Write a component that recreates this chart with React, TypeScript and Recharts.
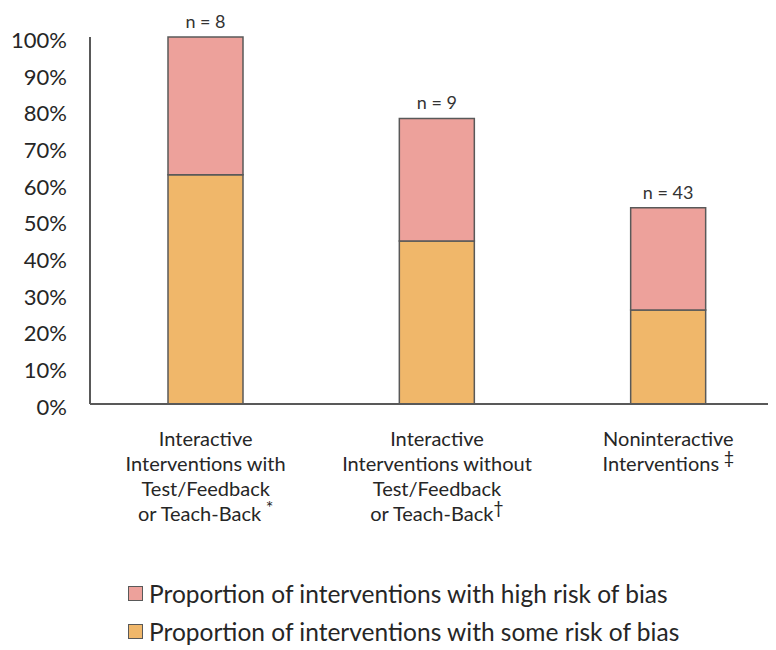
import React from "react";
import { BarChart, Bar, XAxis, YAxis, LabelList } from "recharts";

// values, in percent of interventions
const categories = ["withFeedback", "withoutFeedback", "noninteractive"];
const categoryLines = [
  ["Interactive", "Interventions with", "Test/Feedback", "or Teach-Back"],
  ["Interactive", "Interventions without", "Test/Feedback", "or Teach-Back"],
  ["Noninteractive", "Interventions"],
];
const footnotes = [" *", "†", " ‡"];
const counts = [8, 9, 43];
const someRisk = [62.5, 44.4, 25.6];
const highRisk = [37.5, 33.4, 27.9];
const yTicks = [0, 10, 20, 30, 40, 50, 60, 70, 80, 90, 100];

const seriesNames = {
  high: "Proportion of interventions with high risk of bias",
  some: "Proportion of interventions with some risk of bias",
};
const PINK = "#EDA19B";
const ORANGE = "#F0B76A";
const EDGE = "#595959";
const FONT = "Lato, 'Open Sans', sans-serif";

const data = categories.map((c, i) => ({
  key: c,
  idx: i,
  some: someRisk[i],
  high: highRisk[i],
  label: `n = ${counts[i]}`,
}));

function CategoryTick({ x, y, payload }: any) {
  const i = payload.index;
  const lines = categoryLines[i];
  return (
    <text x={x} y={y + 34} textAnchor="middle" fill="#262626" fontSize={20} fontFamily={FONT}>
      {lines.map((ln, j) => (
        <tspan key={j} x={x} dy={j === 0 ? 0 : 25}>
          {ln}
          {j === lines.length - 1 && (
            <tspan dy={-7} fontSize={18}>{footnotes[i]}</tspan>
          )}
        </tspan>
      ))}
    </text>
  );
}

function Legendish() {
  const rows = [
    { name: seriesNames.high, color: PINK },
    { name: seriesNames.some, color: ORANGE },
  ];
  return (
    <div style={{ position: "absolute", left: 120, top: 566, fontFamily: FONT, fontSize: 24.5, color: "#262626" }}>
      {rows.map((r) => (
        <div key={r.name} style={{ display: "flex", alignItems: "center", height: 38 }}>
          <span style={{ width: 13, height: 13, background: r.color, border: `1px solid ${EDGE}`, marginRight: 6 }} />
          <span>{r.name}</span>
        </div>
      ))}
    </div>
  );
}

export default function App() {
  return (
    <div style={{ position: "relative", width: 768, height: 642, overflow: "hidden", background: "#fff" }}>
      <BarChart width={776} height={642} data={data} margin={{ top: 29, right: 0, left: 0, bottom: 126 }}>
        <XAxis
          dataKey="key"
          tick={<CategoryTick />}
          tickLine={false}
          axisLine={{ stroke: EDGE, strokeWidth: 2 }}
          interval={0}
          height={120}
        />
        <YAxis
          domain={[0, 100]}
          ticks={yTicks}
          tickFormatter={(v) => `${v}%`}
          width={82}
          tickLine={false}
          tickSize={0}
          tickMargin={23}
          axisLine={{ stroke: EDGE, strokeWidth: 2 }}
          tick={{ fill: "#262626", fontSize: 22, fontFamily: FONT, dy: 3 }}
        />
        <Bar dataKey="some" stackId="a" fill={ORANGE} stroke={EDGE} strokeWidth={1.5} barSize={75} isAnimationActive={false} />
        <Bar dataKey="high" stackId="a" fill={PINK} stroke={EDGE} strokeWidth={1.5} barSize={75} isAnimationActive={false}>
          <LabelList dataKey="label" position="top" offset={9} fill="#333" fontSize={18} fontFamily={FONT} />
        </Bar>
      </BarChart>
      <Legendish />
    </div>
  );
}
